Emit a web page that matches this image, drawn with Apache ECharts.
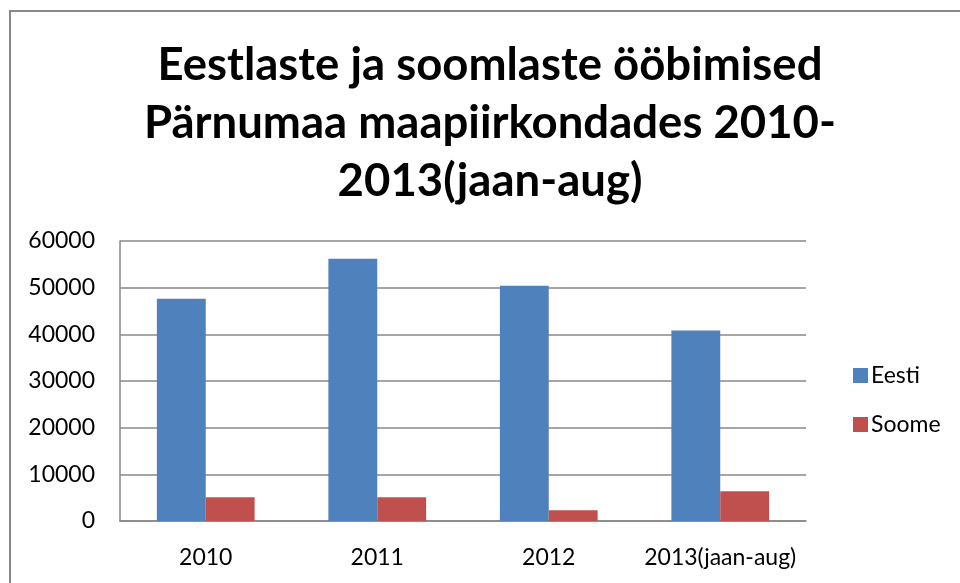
<!DOCTYPE html>
<html><head><meta charset="utf-8">
<script src="https://cdn.jsdelivr.net/npm/echarts@6/dist/echarts.min.js"></script>
<style>html,body{margin:0;padding:0;background:#fff}#c{width:960px;height:583px}</style>
</head><body><div id="c"></div>
<script>
const categories = ['2010', '2011', '2012', '2013(jaan-aug)'];
const eesti = [47600, 56200, 50400, 40800];
const soome = [5100, 5100, 2300, 6400];
const yTicks = [0, 10000, 20000, 30000, 40000, 50000, 60000];
const titleText = 'Eestlaste ja soomlaste ööbimised\nPärnumaa maapiirkondades 2010-\n2013(jaan-aug)';

const chart = echarts.init(document.getElementById('c'), null, {renderer: 'canvas'});
const font = 'Lato';
chart.setOption({
  animation: false,
  backgroundColor: '#fff',
  graphic: [{
    type: 'rect', shape: {x: 10, y: 11, width: 1000, height: 1000},
    style: {fill: 'none', stroke: '#888', lineWidth: 2}, silent: true
  }],
  title: {
    text: titleText, left: 485, top: 31, textAlign: 'center',
    textStyle: {fontFamily: font, fontWeight: 'bold', fontSize: 45.5, lineHeight: 58, color: '#000'}
  },
  legend: {
    orient: 'vertical', left: 848, top: 359, itemWidth: 15, itemHeight: 15, itemGap: 26,
    icon: 'rect', textStyle: {fontFamily: font, fontSize: 23, color: '#000', padding: [0,0,0,-2]},
    data: ['Eesti', 'Soome']
  },
  grid: {left: 120, right: 154, top: 241, bottom: 62, containLabel: false},
  xAxis: {
    type: 'category', data: categories,
    axisLine: {show: true, lineStyle: {color: '#888', width: 1.5}},
    axisTick: {show: false},
    axisLabel: {fontFamily: font, fontSize: 23, color: '#000', margin: 25, interval: 0}
  },
  yAxis: {
    type: 'value', min: yTicks[0], max: yTicks[yTicks.length-1], interval: yTicks[1]-yTicks[0],
    axisLine: {show: true, lineStyle: {color: '#888', width: 1.5}},
    axisTick: {show: false},
    splitLine: {lineStyle: {color: '#888', width: 1.5}},
    axisLabel: {fontFamily: font, fontSize: 23, color: '#000', margin: 25, formatter: v => String(v)}
  },
  series: [
    {name: 'Eesti', type: 'bar', data: eesti, barGap: '0%', barCategoryGap: '43%',
     itemStyle: {color: '#4F81BD'}},
    {name: 'Soome', type: 'bar', data: soome, barGap: '0%', barCategoryGap: '43%',
     itemStyle: {color: '#C0504D'}}
  ]
});
</script></body></html>
